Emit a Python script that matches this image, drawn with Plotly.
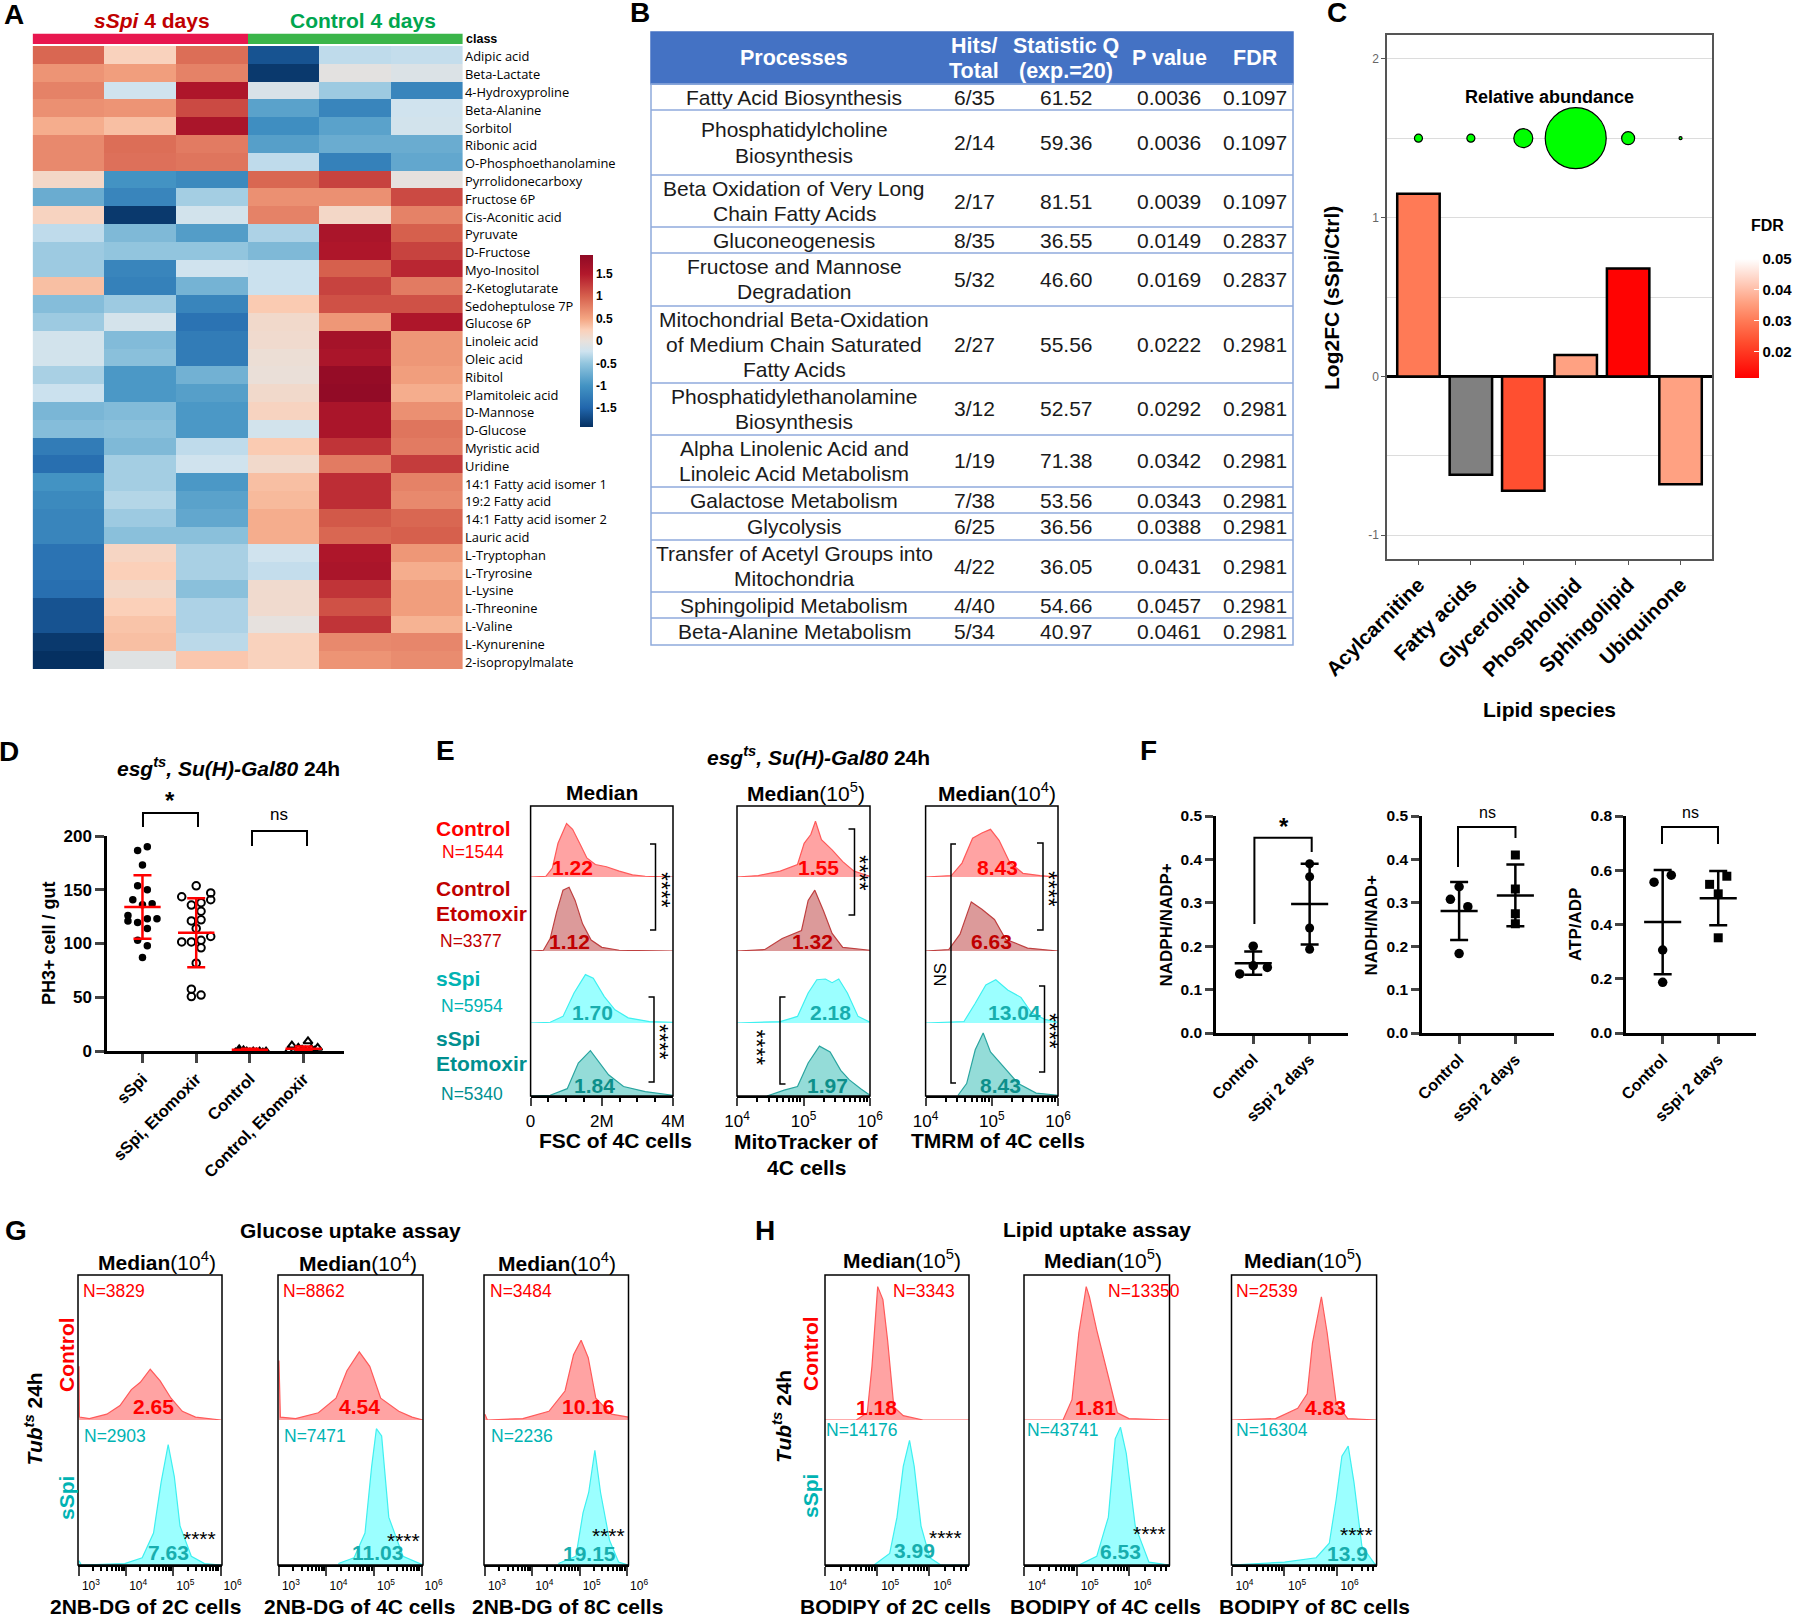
import numpy as np
import plotly.graph_objects as go

W, H = 1800, 1616
FONT = "Liberation Sans"
RED = "#ff0000"
DARK_RED = "#c00000"
TEAL = "#00b3b3"
DARK_TEAL = "#008f8f"

# --- A: heatmap
METABOLITES = ["Adipic acid", "Beta-Lactate", "4-Hydroxyproline", "Beta-Alanine", "Sorbitol", "Ribonic acid",
               "O-Phosphoethanolamine", "Pyrrolidonecarboxy", "Fructose 6P", "Cis-Aconitic acid", "Pyruvate",
               "D-Fructose", "Myo-Inositol", "2-Ketoglutarate", "Sedoheptulose 7P", "Glucose 6P", "Linoleic acid",
               "Oleic acid", "Ribitol", "Plamitoleic acid", "D-Mannose", "D-Glucose", "Myristic acid", "Uridine",
               "14:1 Fatty acid isomer 1", "19:2 Fatty acid", "14:1 Fatty acid isomer 2", "Lauric acid",
               "L-Tryptophan", "L-Tryrosine", "L-Lysine", "L-Threonine", "L-Valine", "L-Kynurenine",
               "2-isopropylmalate"]
SAMPLES = ["sSpi 1", "sSpi 2", "sSpi 3", "Control 1", "Control 2", "Control 3"]
CLASS_ROW = [[0, 0, 0, 1, 1, 1]]
HEAT = [
    [0.95, 0.22, 0.90, -1.65, -0.30, -0.28],
    [0.62, 0.55, 0.75, -1.85, -0.05, -0.12],
    [0.75, -0.22, 1.55, -0.15, -0.45, -1.15],
    [0.65, 0.62, 1.15, -0.85, -1.15, -0.22],
    [0.45, 0.35, 1.60, -1.05, -0.85, -0.20],
    [0.70, 0.90, 0.80, -0.88, -0.75, -0.75],
    [0.70, 0.88, 0.85, -0.30, -1.20, -0.80],
    [0.15, -1.00, -1.10, 0.95, 1.20, -0.02],
    [-0.75, -1.15, -0.42, 0.65, 0.65, 1.15],
    [0.20, -1.85, -0.20, 0.75, 0.15, 0.75],
    [-0.30, -0.62, -0.90, -0.38, 1.60, 1.00],
    [-0.45, -0.50, -0.50, -0.62, 1.55, 1.20],
    [-0.45, -1.15, -0.22, -0.25, 1.00, 1.40],
    [0.35, -1.20, -0.68, -0.25, 1.20, 0.80],
    [-0.58, -0.45, -1.15, 0.28, 1.10, 1.10],
    [-0.45, -0.18, -1.35, 0.12, 0.60, 1.55],
    [-0.20, -0.60, -1.25, 0.10, 1.65, 0.60],
    [-0.20, -0.55, -1.25, 0.05, 1.60, 0.60],
    [-0.40, -0.95, -0.70, 0.03, 1.85, 0.55],
    [-0.25, -0.95, -0.88, 0.12, 1.88, 0.45],
    [-0.65, -0.60, -0.95, 0.20, 1.60, 0.65],
    [-0.58, -0.55, -0.95, -0.20, 1.60, 0.85],
    [-1.25, -0.62, -0.30, 0.28, 1.30, 0.80],
    [-1.40, -0.42, -0.22, 0.12, 0.80, 1.25],
    [-1.00, -0.42, -0.95, 0.35, 1.35, 0.75],
    [-1.10, -0.35, -0.85, 0.38, 1.35, 0.70],
    [-1.15, -0.45, -0.80, 0.45, 1.05, 0.95],
    [-1.15, -0.55, -0.55, 0.45, 0.95, 1.00],
    [-1.35, 0.18, -0.40, -0.22, 1.55, 0.60],
    [-1.35, 0.25, -0.40, -0.28, 1.60, 0.45],
    [-1.40, 0.15, -0.55, 0.10, 1.30, 0.55],
    [-1.65, 0.25, -0.38, 0.10, 1.10, 0.55],
    [-1.65, 0.32, -0.38, -0.02, 1.30, 0.42],
    [-1.85, 0.35, -0.32, 0.22, 0.70, 0.72],
    [-1.95, -0.08, 0.30, 0.22, 0.62, 0.68],
]
HEAT_TICKS = [1.5, 1, 0.5, 0, -0.5, -1, -1.5]

# --- B: table
PROCESSES = ["Fatty Acid Biosynthesis", "Phosphatidylcholine<br>Biosynthesis",
             "Beta Oxidation of Very Long<br>Chain Fatty Acids", "Gluconeogenesis",
             "Fructose and Mannose<br>Degradation",
             "Mitochondrial Beta-Oxidation<br>of Medium Chain Saturated<br>Fatty Acids",
             "Phosphatidylethanolamine<br>Biosynthesis", "Alpha Linolenic Acid and<br>Linoleic Acid Metabolism",
             "Galactose Metabolism", "Glycolysis", "Transfer of Acetyl Groups into<br>Mitochondria",
             "Sphingolipid Metabolism", "Beta-Alanine Metabolism"]
HITS = ["6/35", "2/14", "2/17", "8/35", "5/32", "2/27", "3/12", "1/19", "7/38", "6/25", "4/22", "4/40", "5/34"]
STAT_Q = ["61.52", "59.36", "81.51", "36.55", "46.60", "55.56", "52.57", "71.38", "53.56", "36.56", "36.05",
          "54.66", "40.97"]
P_VALUES = ["0.0036", "0.0036", "0.0039", "0.0149", "0.0169", "0.0222", "0.0292", "0.0342", "0.0343", "0.0388",
            "0.0431", "0.0457", "0.0461"]
FDR_VALUES = ["0.1097", "0.1097", "0.1097", "0.2837", "0.2837", "0.2981", "0.2981", "0.2981", "0.2981", "0.2981",
              "0.2981", "0.2981", "0.2981"]
TABLE_HEADERS = ["Processes", "Hits/<br>Total", "Statistic Q<br>(exp.=20)", "P value", "FDR"]

# --- C: lipids
LIPIDS = ["Acylcarnitine", "Fatty acids", "Glycerolipid", "Phospholipid", "Sphingolipid", "Ubiquinone"]
LOG2FC = [1.15, -0.62, -0.72, 0.135, 0.68, -0.68]
LIPID_FDR = [0.030, None, 0.0235, 0.036, 0.012, 0.036]
ABUNDANCE = [8, 8, 19, 61, 13, 3]

# --- D: PH3 counts
D_GROUPS = ["sSpi", "sSpi, Etomoxir", "Control", "Control, Etomoxir"]
D_SSPI_X = [-0.09, 0.09, 0, -0.09, 0.09, -0.18, 0, 0.18, -0.27, -0.27, -0.09, 0.09, 0.27, 0.09, -0.09, 0.09, 0]
D_SSPI_Y = [186.6, 190, 173, 153.7, 150, 140.7, 136, 137, 126, 121, 119.6, 123, 123, 114, 103, 98, 87]
D_ETO_X = [0, 0.27, -0.27, 0.27, -0.09, 0.09, 0.09, -0.09, 0.09, 0, 0.27, -0.27, -0.09, 0.09, 0.09, 0, -0.09,
           0.09, -0.09]
D_ETO_Y = [153.7, 147, 143.5, 140.7, 135.7, 138, 130, 121, 122, 114, 106.5, 101.5, 101.5, 103, 96, 81.7, 57.5,
           52, 50.6]
D_CTRL_X = [-0.27, -0.2, -0.12, -0.06, 0, 0.06, 0.12, 0.18, 0.24, 0.3]
D_CTRL_Y = [0, 3, 2, 1, 0, 1, 0, 1, 0, 1]
D_CTRL_ETO_X = [-0.28, -0.22, -0.1, -0.03, 0.03, 0.08, 0.14, 0.2, 0.26]
D_CTRL_ETO_Y = [0, 5, 3, 1, 0, 9, 2, 0, 3]
D_MEANS = [134, 110, 1.2, 2.2]
D_SDS = [29.5, 32, 1, 2]

# --- E: flow histograms (x is FSC in millions or log10 intensity, y is relative height)
E_FSC_CTRL_X = [0, 0.43, 0.61, 0.77, 1.01, 1.18, 1.42, 1.58, 1.82, 2.13, 2.49, 2.86, 3.22, 4.0]
E_FSC_CTRL_Y = [0, 0.01, 0.12, 0.46, 0.73, 0.65, 0.42, 0.26, 0.17, 0.14, 0.08, 0.03, 0.01, 0]
E_FSC_CETO_X = [0, 0.36, 0.55, 0.73, 0.91, 1.08, 1.25, 1.46, 1.7, 2.0, 2.49, 4.0]
E_FSC_CETO_Y = [0, 0.01, 0.17, 0.53, 0.83, 0.87, 0.69, 0.37, 0.15, 0.05, 0.01, 0]
E_FSC_SSPI_X = [0, 0.55, 0.91, 1.22, 1.54, 1.76, 2.07, 2.37, 2.74, 3.34, 4.0]
E_FSC_SSPI_Y = [0, 0.01, 0.09, 0.41, 0.66, 0.61, 0.36, 0.18, 0.07, 0.02, 0.01]
E_FSC_SETO_X = [0, 0.55, 1.03, 1.34, 1.68, 1.88, 2.19, 2.61, 3.22, 4.0]
E_FSC_SETO_Y = [0, 0.01, 0.10, 0.45, 0.62, 0.49, 0.29, 0.13, 0.06, 0.01]
E_MITO_CTRL_X = [4, 4.32, 4.65, 4.91, 5.01, 5.11, 5.18, 5.27, 5.43, 5.59, 5.76, 6]
E_MITO_CTRL_Y = [0, 0.02, 0.08, 0.17, 0.46, 0.58, 0.76, 0.51, 0.37, 0.21, 0.08, 0.01]
E_MITO_CETO_X = [4, 4.42, 4.68, 4.97, 5.07, 5.17, 5.30, 5.43, 5.59, 6]
E_MITO_CETO_Y = [0, 0.02, 0.17, 0.28, 0.69, 0.83, 0.55, 0.24, 0.05, 0.01]
E_MITO_SSPI_X = [4, 4.65, 4.91, 5.07, 5.2, 5.33, 5.43, 5.53, 5.66, 5.82, 6]
E_MITO_SSPI_Y = [0, 0.02, 0.09, 0.41, 0.59, 0.6, 0.55, 0.6, 0.41, 0.09, 0.01]
E_MITO_SETO_X = [4.45, 4.71, 4.91, 5.07, 5.24, 5.4, 5.56, 5.69, 5.86, 6]
E_MITO_SETO_Y = [0, 0.08, 0.13, 0.45, 0.68, 0.6, 0.35, 0.22, 0.1, 0.01]
E_TMRM_CTRL_X = [4, 4.39, 4.55, 4.71, 4.85, 4.98, 5.11, 5.27, 5.47, 5.73, 6]
E_TMRM_CTRL_Y = [0, 0.02, 0.19, 0.53, 0.6, 0.65, 0.5, 0.2, 0.05, 0.02, 0]
E_TMRM_CETO_X = [4, 4.35, 4.52, 4.69, 4.85, 5.04, 5.21, 5.54, 6]
E_TMRM_CETO_Y = [0, 0.02, 0.23, 0.67, 0.57, 0.43, 0.16, 0.04, 0]
E_TMRM_SSPI_X = [4, 4.58, 4.75, 4.91, 5.06, 5.24, 5.44, 5.6, 5.8, 6]
E_TMRM_SSPI_Y = [0, 0.02, 0.27, 0.52, 0.59, 0.45, 0.35, 0.14, 0.05, 0.01]
E_TMRM_SETO_X = [4.49, 4.62, 4.75, 4.87, 4.98, 5.17, 5.4, 5.67, 6]
E_TMRM_SETO_Y = [0.01, 0.17, 0.63, 0.86, 0.6, 0.4, 0.17, 0.04, 0.01]
E_MEDIANS = [["1.22", "1.12", "1.70", "1.84"], ["1.55", "1.32", "2.18", "1.97"], ["8.43", "6.63", "13.04", "8.43"]]

# --- F: ratios
F_GROUPS = ["Control", "sSpi 2 days"]
F1_CTRL_X = [0, -0.24, 0, 0.25]
F1_CTRL_Y = [0.2, 0.136, 0.155, 0.151]
F1_SSPI_Y = [0.39, 0.36, 0.242, 0.193]
F1_MEANS = [0.161, 0.297]
F1_SDS = [0.027, 0.093]
F2_CTRL_X = [0, -0.155, 0.155, 0]
F2_CTRL_Y = [0.337, 0.308, 0.291, 0.183]
F2_SSPI_Y = [0.41, 0.332, 0.275, 0.252]
F2_MEANS = [0.281, 0.317]
F2_SDS = [0.067, 0.071]
F3_CTRL_X = [0.155, -0.155, 0, 0]
F3_CTRL_Y = [0.582, 0.556, 0.306, 0.187]
F3_SSPI_X = [0.155, -0.155, 0, 0]
F3_SSPI_Y = [0.578, 0.548, 0.513, 0.351]
F3_MEANS = [0.409, 0.497]
F3_SDS = [0.192, 0.1]

# --- G: glucose uptake (log10 intensity, relative height)
G_2C_CTRL_X = [3, 3.01, 3.22, 3.59, 3.87, 4.11, 4.30, 4.51, 4.72, 4.95, 5.19, 5.47, 6.01]
G_2C_CTRL_Y = [0.37, 0.02, 0.01, 0.04, 0.10, 0.21, 0.26, 0.35, 0.27, 0.15, 0.06, 0.02, 0]
G_2C_SSPI_X = [3, 3.05, 3.97, 4.34, 4.58, 4.74, 4.89, 5.02, 5.14, 5.38, 5.66, 6.01]
G_2C_SSPI_Y = [0.03, 0, 0.01, 0.05, 0.22, 0.57, 0.83, 0.61, 0.27, 0.06, 0.01, 0]
G_4C_CTRL_X = [3, 3.03, 3.35, 3.83, 4.2, 4.43, 4.69, 4.91, 5.14, 5.52, 5.8, 6.03]
G_4C_CTRL_Y = [0.41, 0.02, 0.01, 0.05, 0.15, 0.34, 0.47, 0.37, 0.15, 0.06, 0.02, 0]
G_4C_SSPI_X = [4.25, 4.58, 4.81, 4.95, 5.05, 5.16, 5.31, 5.61, 6.03]
G_4C_SSPI_Y = [0.01, 0.05, 0.22, 0.68, 0.94, 0.89, 0.33, 0.06, 0]
G_8C_CTRL_X = [3, 3.05, 3.8, 4.35, 4.69, 4.87, 5.03, 5.18, 5.34, 5.67, 6.03]
G_8C_CTRL_Y = [0.04, 0, 0.01, 0.06, 0.2, 0.45, 0.55, 0.43, 0.15, 0.04, 0.02]
G_8C_SSPI_X = [4.55, 4.92, 5.07, 5.19, 5.32, 5.44, 5.63, 5.82, 6.03]
G_8C_SSPI_Y = [0.01, 0.06, 0.36, 0.5, 0.79, 0.5, 0.17, 0.02, 0]

# --- H: lipid uptake
H_2C_CTRL_X = [4, 4.6, 4.81, 4.9, 5.01, 5.11, 5.2, 5.32, 5.5, 5.88, 6.76]
H_2C_CTRL_Y = [0, 0, 0.05, 0.37, 0.92, 0.83, 0.55, 0.09, 0.03, 0, 0]
H_2C_SSPI_X = [4.94, 5.24, 5.38, 5.5, 5.62, 5.71, 5.84, 6.01, 6.22, 6.76]
H_2C_SSPI_Y = [0, 0.08, 0.33, 0.68, 0.86, 0.68, 0.27, 0.05, 0, 0]
H_4C_CTRL_X = [4, 4.74, 4.91, 5.04, 5.15, 5.18, 5.24, 5.38, 5.6, 5.77, 5.99, 6.76]
H_4C_CTRL_Y = [0, 0, 0.14, 0.6, 0.85, 0.92, 0.85, 0.62, 0.30, 0.05, 0.01, 0]
H_4C_SSPI_X = [5.04, 5.38, 5.6, 5.73, 5.83, 5.94, 6.11, 6.37, 6.76]
H_4C_SSPI_Y = [0, 0.06, 0.33, 0.87, 0.95, 0.77, 0.27, 0.02, 0]
H_8C_CTRL_X = [4, 4.84, 5.26, 5.44, 5.54, 5.71, 5.82, 5.99, 6.21, 6.76]
H_8C_CTRL_Y = [0, 0.01, 0.08, 0.18, 0.53, 0.85, 0.6, 0.12, 0.01, 0]
H_8C_SSPI_X = [4, 5.01, 5.61, 5.86, 5.99, 6.1, 6.22, 6.33, 6.48, 6.72, 6.76]
H_8C_SSPI_Y = [0, 0.02, 0.05, 0.15, 0.45, 0.75, 0.82, 0.57, 0.13, 0.01, 0]

fig = go.Figure()
annotations, shapes = [], []
axis_count = 0


def new_axes(x0, x1, y0, y1, xaxis=None, yaxis=None):
    # takes the axes rectangle in page pixels
    global axis_count
    axis_count += 1
    sfx = "" if axis_count == 1 else str(axis_count)
    xid, yid = "x" + sfx, "y" + sfx
    fig.layout["xaxis" + sfx] = dict(domain=[x0 / W, x1 / W], anchor=yid, showgrid=False, zeroline=False,
                                     **(xaxis or {}))
    fig.layout["yaxis" + sfx] = dict(domain=[1 - y1 / H, 1 - y0 / H], anchor=xid, showgrid=False, zeroline=False,
                                     **(yaxis or {}))
    return xid, yid


def label(x, y, text, size=18, color="black", bold=False, anchor="center", angle=0):
    if bold:
        text = "<b>" + text + "</b>"
    annotations.append(dict(x=x / W, y=1 - y / H, xref="paper", yref="paper", text=text, showarrow=False,
                            xanchor=anchor, yanchor="middle", textangle=angle, align="center",
                            font=dict(family=FONT, size=size, color=color)))


def stacked(x, mid, text, spacing=25, **kw):
    # plotly's own <br> spacing is too loose here, so each line gets its own label
    lines = text.split("<br>")
    for n, line in enumerate(lines):
        label(x, mid + (n - (len(lines) - 1) / 2) * spacing, line, **kw)


def poly(points, color="black", width=2.0):
    path = "M " + " L ".join(f"{x / W:.5f},{1 - y / H:.5f}" for x, y in points)
    shapes.append(dict(type="path", path=path, xref="paper", yref="paper", line=dict(color=color, width=width)))


def box(x0, y0, x1, y1, line="black", width=1.5, fill=None):
    shapes.append(dict(type="rect", x0=x0 / W, x1=x1 / W, y0=1 - y1 / H, y1=1 - y0 / H, xref="paper", yref="paper",
                       line=dict(color=line, width=width), fillcolor=fill))


def log_minors(first, last):
    return [d + np.log10(m) for d in range(first, last) for m in range(2, 10)]


def decade_labels(decades):
    return [f"10<sup>{d}</sup>" for d in decades]


def hist(x, y, xid, yid, line, fill):
    fig.add_trace(go.Scatter(x=x, y=y, xaxis=xid, yaxis=yid, mode="lines", fill="tozeroy", fillcolor=fill,
                             line=dict(color=line, width=1.2), hoverinfo="skip"))


PINK = ("#ff5a5a", "#ffa3a3")
MAROON = ("#bf4040", "#dc9a9a")
CYAN = ("#3ff0f0", "#9bffff")
SEA = ("#2aa5a0", "#94dcd8")

# Panel letters
for letter, lx, ly in [("A", 14, 14), ("B", 640, 12), ("C", 1337, 12), ("D", 9, 751), ("E", 445, 750),
                       ("F", 1148, 750), ("G", 16, 1230), ("H", 765, 1230)]:
    label(lx, ly, letter, size=28, bold=True)

# --- Panel A
xa, ya = new_axes(32.6, 463, 33.5, 44, dict(visible=False), dict(visible=False))
fig.add_trace(go.Heatmap(z=CLASS_ROW, x=SAMPLES, xaxis=xa, yaxis=ya, showscale=False, hoverinfo="skip",
                         colorscale=[[0, "#e8174f"], [0.5, "#e8174f"], [0.5, "#3bb54a"], [1, "#3bb54a"]]))
xa, ya = new_axes(32.6, 463, 46, 669, dict(visible=False),
                  dict(side="right", autorange="reversed", tickmode="array", tickvals=METABOLITES,
                       ticktext=METABOLITES, ticks="", showline=False, ticklabelstandoff=1, ticklabelshift=-2,
                       tickfont=dict(family="Open Sans", size=12.9, color="black")))
fig.add_trace(go.Heatmap(
    z=HEAT, x=SAMPLES, y=METABOLITES, xaxis=xa, yaxis=ya, zmin=-1.92, zmax=1.92,
    colorscale=[[0, "#053061"], [0.11, "#2166ac"], [0.24, "#4393c3"], [0.37, "#92c5de"], [0.44, "#cfe3ef"],
                [0.5, "#e8e1dc"], [0.565, "#fbd0b9"], [0.63, "#f4a582"], [0.76, "#d6604d"], [0.89, "#b2182b"],
                [1, "#8f0a25"]],
    colorbar=dict(x=580 / W, xanchor="left", y=1 - 427 / H, yanchor="bottom", len=172, lenmode="pixels",
                  thickness=13, thicknessmode="pixels", xpad=0, ypad=0, outlinewidth=0, ticks="",
                  tickvals=HEAT_TICKS, ticktext=[str(t) for t in HEAT_TICKS],
                  tickfont=dict(family=FONT, size=12, color="black", weight="bold"))))
label(463.5, 39, "class", size=12.5, bold=True, anchor="left")
label(152, 21, "<i>sSpi</i> 4 days", size=21, color=DARK_RED, bold=True)
label(363, 21, "Control 4 days", size=21, color="#00a64f", bold=True)

# --- Panel B
TABLE_X = [651, 928, 1020, 1112, 1226, 1293]
TABLE_TEXT_X = [794, 974, 1066, 1169, 1255]
TABLE_EDGES = [32, 84, 110, 175, 227, 253, 306, 383, 435, 487, 513, 540, 592, 618, 645]
box(TABLE_X[0], TABLE_EDGES[0], TABLE_X[-1], TABLE_EDGES[1], line="#4472c4", fill="#4472c4")
box(TABLE_X[0], TABLE_EDGES[1], TABLE_X[-1], TABLE_EDGES[-1], line="#8faadc", width=1.5)
for edge in TABLE_EDGES[2:-1]:
    poly([(TABLE_X[0], edge), (TABLE_X[-1], edge)], color="#8faadc", width=1.5)
for tx, head in zip(TABLE_TEXT_X, TABLE_HEADERS):
    stacked(tx, (TABLE_EDGES[0] + TABLE_EDGES[1]) / 2, head, size=21.5, color="white", bold=True)
for i, row in enumerate(zip(PROCESSES, HITS, STAT_Q, P_VALUES, FDR_VALUES)):
    mid = (TABLE_EDGES[i + 1] + TABLE_EDGES[i + 2]) / 2
    for tx, cell in zip(TABLE_TEXT_X, row):
        stacked(tx, mid, cell, size=21, color="#1a1a1a")

# --- Panel C
xc, yc = new_axes(1387, 1712, 35, 559,
                  dict(range=[-0.6, 5.6], tickmode="array", tickvals=list(range(6)), ticktext=LIPIDS,
                       tickangle=-45, ticks="outside", ticklen=4, tickcolor="#555", showline=True,
                       linecolor="#555", linewidth=1.5, mirror=True,
                       tickfont=dict(family=FONT, size=20.5, color="black", weight="bold")),
                  dict(range=[-1.15, 2.15], tickmode="array", tickvals=[-1, 0, 1, 2], ticktext=["-1", "0", "1", "2"],
                       ticks="outside", ticklen=4, tickcolor="#555", showline=True, linecolor="#555", linewidth=1.5,
                       mirror=True, tickfont=dict(family=FONT, size=12, color="#666")))
y_layout = fig.layout[yc.replace("y", "yaxis")]
y_layout.showgrid = True
y_layout.gridcolor = "#dcdcdc"
y_layout.gridwidth = 1.2
y_layout.zeroline = True
y_layout.zerolinecolor = "black"
y_layout.zerolinewidth = 2.5
y_layout.minor = dict(tickmode="array", tickvals=[-0.5, 0.5, 1.5], showgrid=True, gridcolor="#dcdcdc", gridwidth=1.2,
                      ticks="")
known = [i for i, f in enumerate(LIPID_FDR) if f is not None]
missing = [i for i, f in enumerate(LIPID_FDR) if f is None]
fig.add_trace(go.Bar(
    x=known, y=[LOG2FC[i] for i in known], xaxis=xc, yaxis=yc, width=0.81,
    marker=dict(color=[LIPID_FDR[i] for i in known], cmin=0.0116, cmax=0.05,
                colorscale=[[0, "#ff0000"], [0.3, "#ff4d2e"], [0.48, "#ff7a56"], [0.63, "#ffa080"], [1, "#ffffff"]],
                line=dict(color="black", width=2.5),
                colorbar=dict(x=1735 / W, xanchor="left", y=1 - 378 / H, yanchor="bottom", len=119, lenmode="pixels",
                              thickness=24, thicknessmode="pixels", xpad=0, ypad=0, outlinewidth=0, ticks="inside",
                              ticklen=5, tickcolor="white", tickvals=[0.02, 0.03, 0.04, 0.05],
                              ticktext=["0.02", "0.03", "0.04", "0.05"],
                              tickfont=dict(family=FONT, size=15, color="black", weight="bold")))))
fig.add_trace(go.Bar(x=missing, y=[LOG2FC[i] for i in missing], xaxis=xc, yaxis=yc, width=0.81,
                     marker=dict(color="#808080", line=dict(color="black", width=2.5))))
fig.add_trace(go.Scatter(x=list(range(6)), y=[1.5] * 6, xaxis=xc, yaxis=yc, mode="markers",
                         marker=dict(size=ABUNDANCE, color="#00ff00", opacity=1, line=dict(color="black", width=1.2))))
label(1549, 97, "Relative abundance", size=18, bold=True)
label(1767, 225, "FDR", size=16, bold=True)
label(1331, 298, "Log2FC (sSpi/Ctrl)", size=21, bold=True, angle=-90)
label(1549, 709, "Lipid species", size=21, bold=True)

# --- Panel D
xd, yd = new_axes(107, 344, 836, 1051,
                  dict(range=[-0.66, 3.75], tickmode="array", tickvals=list(range(4)), ticktext=D_GROUPS,
                       tickangle=-45, ticks="outside", ticklen=9, tickwidth=2.5, showline=True, linewidth=2.5,
                       linecolor="black", tickfont=dict(family=FONT, size=16.5, color="black", weight="bold")),
                  dict(range=[0, 200], tickmode="array", tickvals=[0, 50, 100, 150, 200], ticks="outside", ticklen=9,
                       tickwidth=2.5, showline=True, linewidth=2.5, linecolor="black",
                       tickfont=dict(family=FONT, size=17, color="black", weight="bold")))
fig.add_trace(go.Scatter(x=[0 + v for v in D_SSPI_X], y=D_SSPI_Y, xaxis=xd, yaxis=yd, mode="markers",
                         marker=dict(symbol="circle", size=7.5, color="black")))
fig.add_trace(go.Scatter(x=[1 + v for v in D_ETO_X], y=D_ETO_Y, xaxis=xd, yaxis=yd, mode="markers",
                         marker=dict(symbol="circle-open", size=7.5, color="black", line=dict(width=2))))
fig.add_trace(go.Scatter(x=[2 + v for v in D_CTRL_X], y=D_CTRL_Y, xaxis=xd, yaxis=yd, mode="markers", cliponaxis=False,
                         marker=dict(symbol="triangle-up", size=8, color="black")))
fig.add_trace(go.Scatter(x=[3 + v for v in D_CTRL_ETO_X], y=D_CTRL_ETO_Y, xaxis=xd, yaxis=yd, mode="markers",
                         cliponaxis=False, marker=dict(symbol="triangle-up-open", size=8, color="black",
                                                       line=dict(width=2))))
fig.add_trace(go.Scatter(x=list(range(4)), y=D_MEANS, xaxis=xd, yaxis=yd, mode="markers", cliponaxis=False,
                         marker=dict(symbol="line-ew", size=26, line=dict(color="#ff0000", width=2.5)),
                         error_y=dict(type="data", array=D_SDS, color="#ff0000", thickness=2.5, width=9)))
poly([(143, 827), (143, 813), (198, 813), (198, 827)])
poly([(252, 846), (252, 831), (307, 831), (307, 846)])
label(170, 801, "*", size=24, bold=True)
label(279, 815, "ns", size=17)
label(229, 767, "<i>esg<sup>ts</sup>, Su(H)-Gal80</i> 24h", size=21, bold=True)
label(49, 943, "PH3+ cell / gut", size=18, bold=True, angle=-90)

# --- Panel E
E_BASELINES = [877, 951, 1023, 1096]
E_STYLES = [PINK, MAROON, CYAN, SEA]
E_NUM_COLORS = [RED, DARK_RED, "#17aeae", "#0d8f8a"]
E_PANELS = [
    (530.6, 673, [0, 4], [E_FSC_CTRL_X, E_FSC_CETO_X, E_FSC_SSPI_X, E_FSC_SETO_X],
     [E_FSC_CTRL_Y, E_FSC_CETO_Y, E_FSC_SSPI_Y, E_FSC_SETO_Y],
     dict(tickvals=[0, 2, 4], ticktext=["0", "2M", "4M"],
          minor=dict(tickmode="array", tickvals=[0.5, 1, 1.5, 2.5, 3, 3.5], ticks="outside", ticklen=4,
                     tickcolor="black"))),
    (737, 870, [4, 6], [E_MITO_CTRL_X, E_MITO_CETO_X, E_MITO_SSPI_X, E_MITO_SETO_X],
     [E_MITO_CTRL_Y, E_MITO_CETO_Y, E_MITO_SSPI_Y, E_MITO_SETO_Y],
     dict(tickvals=[4, 5, 6], ticktext=decade_labels([4, 5, 6]),
          minor=dict(tickmode="array", tickvals=log_minors(4, 6), ticks="outside", ticklen=4, tickcolor="black"))),
    (925.6, 1058, [4, 6], [E_TMRM_CTRL_X, E_TMRM_CETO_X, E_TMRM_SSPI_X, E_TMRM_SETO_X],
     [E_TMRM_CTRL_Y, E_TMRM_CETO_Y, E_TMRM_SSPI_Y, E_TMRM_SETO_Y],
     dict(tickvals=[4, 5, 6], ticktext=decade_labels([4, 5, 6]),
          minor=dict(tickmode="array", tickvals=log_minors(4, 6), ticks="outside", ticklen=4, tickcolor="black"))),
]
E_NUM_X = [[572, 569.6, 592, 594], [818, 812.5, 830, 827], [997, 991, 1014, 1000]]
E_NUM_Y = [867, 941, 1013, 1085]
for p, (x0, x1, xrange, xs, ys, ticks) in enumerate(E_PANELS):
    for r, base in enumerate(E_BASELINES):
        if r == 3:
            xaxis = dict(range=xrange, tickmode="array", ticks="outside", ticklen=8, tickwidth=1.5, showline=True,
                         linecolor="black", linewidth=1.5, ticklabelstandoff=1,
                         tickfont=dict(family=FONT, size=17, color="black"), **ticks)
        else:
            xaxis = dict(range=xrange, visible=False)
        xe, ye = new_axes(x0, x1, base - 73.3, base, xaxis, dict(range=[0, 1], visible=False))
        hist(xs[r], ys[r], xe, ye, *E_STYLES[r])
        label(E_NUM_X[p][r], E_NUM_Y[r], E_MEDIANS[p][r], size=21, color=E_NUM_COLORS[r], bold=True)
    box(x0, 806, x1, 1096)
label(818, 756, "<i>esg<sup>ts</sup>, Su(H)-Gal80</i> 24h", size=21, bold=True)
label(602, 792, "Median", size=21, bold=True)
label(806, 792, "<b>Median</b>(10<sup>5</sup>)", size=21)
label(997, 792, "<b>Median</b>(10<sup>4</sup>)", size=21)
label(615, 1140, "FSC of 4C cells", size=21, bold=True)
stacked(806, 1154, "MitoTracker of<br>4C cells", spacing=26, size=21, bold=True)
label(998, 1140, "TMRM of 4C cells", size=21, bold=True)
label(434, 829, "Control", size=21, color=RED, bold=True, anchor="left")
label(440, 852, "N=1544", size=17.5, color=RED, anchor="left")
label(434, 888, "Control", size=21, color=DARK_RED, bold=True, anchor="left")
label(434, 913, "Etomoxir", size=21, color=DARK_RED, bold=True, anchor="left")
label(438, 941, "N=3377", size=17.5, color=DARK_RED, anchor="left")
label(434, 978, "sSpi", size=21, color=TEAL, bold=True, anchor="left")
label(439, 1006, "N=5954", size=17.5, color=TEAL, anchor="left")
label(434, 1038, "sSpi", size=21, color=DARK_TEAL, bold=True, anchor="left")
label(434, 1063, "Etomoxir", size=21, color=DARK_TEAL, bold=True, anchor="left")
label(439, 1094, "N=5340", size=17.5, color=DARK_TEAL, anchor="left")
for bx, tip, y0, y1 in [(655.5, 650, 844, 930), (654, 648.5, 997, 1082), (854.5, 848.5, 829, 915),
                        (780, 785.5, 997, 1084), (951, 956, 844, 1083), (1043, 1037, 843, 930),
                        (1044.5, 1039, 986, 1072)]:
    poly([(tip, y0), (bx, y0), (bx, y1), (tip, y1)], width=1.5)
for sx, sy in [(661, 890), (659, 1042), (859, 873), (755.5, 1047), (1048, 889), (1049, 1031)]:
    label(sx, sy, "****", size=23, angle=90)
label(939.5, 975, "NS", size=17, angle=-90)

# --- Panel F
F_PANELS = [
    (1216, 1348, [0, 0.5], [0, 0.1, 0.2, 0.3, 0.4, 0.5], F1_CTRL_X, F1_CTRL_Y, [0, 0, 0, 0], F1_SSPI_Y,
     F1_MEANS, F1_SDS, "circle"),
    (1422, 1553.6, [0, 0.5], [0, 0.1, 0.2, 0.3, 0.4, 0.5], F2_CTRL_X, F2_CTRL_Y, [0, 0, 0, 0], F2_SSPI_Y,
     F2_MEANS, F2_SDS, "square"),
    (1626, 1756, [0, 0.8], [0, 0.2, 0.4, 0.6, 0.8], F3_CTRL_X, F3_CTRL_Y, F3_SSPI_X, F3_SSPI_Y,
     F3_MEANS, F3_SDS, "square"),
]
for x0, x1, yrange, yticks, cx, cy, sx, sy, means, sds, sym in F_PANELS:
    xf, yf = new_axes(x0, x1, 816, 1033,
                      dict(range=[-0.66, 1.68], tickmode="array", tickvals=[0, 1], ticktext=F_GROUPS, tickangle=-45,
                           ticks="outside", ticklen=8, tickwidth=2.5, showline=True, linewidth=2.5, linecolor="black",
                           tickfont=dict(family=FONT, size=16, color="black", weight="bold")),
                      dict(range=yrange, tickmode="array", tickvals=yticks, tickformat=".1f", ticks="outside",
                           ticklen=8, tickwidth=2.5, showline=True, linewidth=2.5, linecolor="black",
                           tickfont=dict(family=FONT, size=15.5, color="black", weight="bold")))
    fig.add_trace(go.Scatter(x=cx, y=cy, xaxis=xf, yaxis=yf, mode="markers",
                             marker=dict(symbol="circle", size=9.5, color="black")))
    fig.add_trace(go.Scatter(x=[1 + v for v in sx], y=sy, xaxis=xf, yaxis=yf, mode="markers",
                             marker=dict(symbol=sym, size=9, color="black")))
    fig.add_trace(go.Scatter(x=[0, 1], y=means, xaxis=xf, yaxis=yf, mode="markers",
                             marker=dict(symbol="line-ew", size=26.5, line=dict(color="black", width=2.5)),
                             error_y=dict(type="data", array=sds, color="black", thickness=2.5, width=9)))
poly([(1254.4, 924), (1254.4, 837.7), (1311.7, 837.7), (1311.7, 852)])
poly([(1458, 867), (1458, 827), (1515.5, 827), (1515.5, 838)])
poly([(1662, 844), (1662, 827), (1718, 827), (1718, 844)])
label(1283.5, 827, "*", size=24, bold=True)
label(1487, 812, "ns", size=16)
label(1690, 812, "ns", size=16)
label(1165.5, 925, "NADPH/NADP+", size=17, bold=True, angle=-90)
label(1370.6, 925, "NADH/NAD+", size=17, bold=True, angle=-90)
label(1575, 925, "ATP/ADP", size=17, bold=True, angle=-90)


def flow_panel(x0, x1, decades, xmin, xmax, ctrl, sspi, shift):
    minors = log_minors(decades[0], decades[-1]) + [decades[-1] + np.log10(m) for m in range(2, 7)
                                                    if decades[-1] + np.log10(m) < xmax]
    xaxis = dict(range=[xmin, xmax], tickmode="array", tickvals=decades, ticktext=decade_labels(decades),
                 ticks="outside", ticklen=9, tickwidth=1.5, showline=True, linecolor="black", linewidth=1.5,
                 ticklabelshift=shift, ticklabelstandoff=0, tickfont=dict(family=FONT, size=12, color="black"),
                 minor=dict(tickmode="array", tickvals=minors, ticks="outside", ticklen=4, tickcolor="black"))
    xt, yt = new_axes(x0, x1, 1275, 1420, dict(range=[xmin, xmax], visible=False), dict(range=[0, 1], visible=False))
    hist(ctrl[0], ctrl[1], xt, yt, *PINK)
    xb, yb = new_axes(x0, x1, 1420, 1565, xaxis, dict(range=[0, 1], visible=False))
    hist(sspi[0], sspi[1], xb, yb, *CYAN)
    box(x0, 1275, x1, 1565)


# --- Panel G
flow_panel(78, 222, [3, 4, 5, 6], 2.98, 6.03, (G_2C_CTRL_X, G_2C_CTRL_Y), (G_2C_SSPI_X, G_2C_SSPI_Y), 12)
flow_panel(278, 423, [3, 4, 5, 6], 2.98, 6.03, (G_4C_CTRL_X, G_4C_CTRL_Y), (G_4C_SSPI_X, G_4C_SSPI_Y), 12)
flow_panel(484, 628.5, [3, 4, 5, 6], 2.98, 6.03, (G_8C_CTRL_X, G_8C_CTRL_Y), (G_8C_SSPI_X, G_8C_SSPI_Y), 12)
label(350, 1230, "Glucose uptake assay", size=21, bold=True)
for mx, my in [(157, 1261), (358, 1262), (557, 1262)]:
    label(mx, my, "<b>Median</b>(10<sup>4</sup>)", size=21)
for nx, ny, txt, col in [(81, 1291, "N=3829", RED), (281, 1291, "N=8862", RED), (488, 1291, "N=3484", RED),
                         (81.5, 1436, "N=2903", TEAL), (282, 1436, "N=7471", TEAL), (489, 1436, "N=2236", TEAL)]:
    label(nx, ny, txt, size=17.5, color=col, anchor="left")
for mx, my, txt, col in [(153, 1406, "2.65", RED), (359, 1406, "4.54", RED), (588, 1406, "10.16", RED),
                         (168, 1552, "7.63", "#17aeae"), (377, 1552, "11.03", "#17aeae"),
                         (589, 1553, "19.15", "#17aeae")]:
    label(mx, my, txt, size=21, color=col, bold=True)
for sx, sy in [(199.5, 1538), (403, 1540), (608, 1535)]:
    label(sx, sy, "****", size=21)
label(66, 1355, "Control", size=21, color=RED, bold=True, angle=-90)
label(66, 1498, "sSpi", size=21, color=TEAL, bold=True, angle=-90)
label(33.5, 1419, "<i>Tub<sup>ts</sup></i> 24h", size=21, bold=True, angle=-90)
for tx, txt in [(145, "2NB-DG of 2C cells"), (359, "2NB-DG of 4C cells"), (567, "2NB-DG of 8C cells")]:
    label(tx, 1606, txt, size=21, bold=True)

# --- Panel H
flow_panel(825, 969, [4, 5, 6], 4, 6.76, (H_2C_CTRL_X, H_2C_CTRL_Y), (H_2C_SSPI_X, H_2C_SSPI_Y), 13)
flow_panel(1024, 1169.5, [4, 5, 6], 4, 6.76, (H_4C_CTRL_X, H_4C_CTRL_Y), (H_4C_SSPI_X, H_4C_SSPI_Y), 13)
flow_panel(1231.5, 1376.6, [4, 5, 6], 4, 6.76, (H_8C_CTRL_X, H_8C_CTRL_Y), (H_8C_SSPI_X, H_8C_SSPI_Y), 13)
label(1097, 1229, "Lipid uptake assay", size=21, bold=True)
for mx, my in [(902, 1259), (1103, 1259), (1302.5, 1259)]:
    label(mx, my, "<b>Median</b>(10<sup>5</sup>)", size=21)
for nx, ny, txt, col in [(891, 1291, "N=3343", RED), (1106, 1291, "N=13350", RED), (1234, 1291, "N=2539", RED),
                         (824, 1430, "N=14176", TEAL), (1025, 1430, "N=43741", TEAL), (1234, 1430, "N=16304", TEAL)]:
    label(nx, ny, txt, size=17.5, color=col, anchor="left")
for mx, my, txt, col in [(876, 1407, "1.18", RED), (1095, 1407, "1.81", RED), (1325, 1407, "4.83", RED),
                         (914, 1550, "3.99", "#17aeae"), (1120, 1551, "6.53", "#17aeae"),
                         (1347.6, 1553, "13.9", "#17aeae")]:
    label(mx, my, txt, size=21, color=col, bold=True)
for sx, sy in [(945, 1537), (1149, 1533), (1356.5, 1534)]:
    label(sx, sy, "****", size=21)
label(810, 1354, "Control", size=21, color=RED, bold=True, angle=-90)
label(810, 1496, "sSpi", size=21, color=TEAL, bold=True, angle=-90)
label(782, 1417, "<i>Tub<sup>ts</sup></i> 24h", size=21, bold=True, angle=-90)
for tx, txt in [(895, "BODIPY of 2C cells"), (1105, "BODIPY of 4C cells"), (1314.5, "BODIPY of 8C cells")]:
    label(tx, 1606, txt, size=21, bold=True)

fig.update_layout(width=W, height=H, margin=dict(l=0, r=0, t=0, b=0, autoexpand=False), paper_bgcolor="white",
                  plot_bgcolor="rgba(0,0,0,0)", showlegend=False, barmode="overlay",
                  font=dict(family=FONT, color="black"), annotations=annotations, shapes=shapes)
fig.write_html("out.html", config=dict(displayModeBar=False), post_script="document.body.style.margin='0';")
